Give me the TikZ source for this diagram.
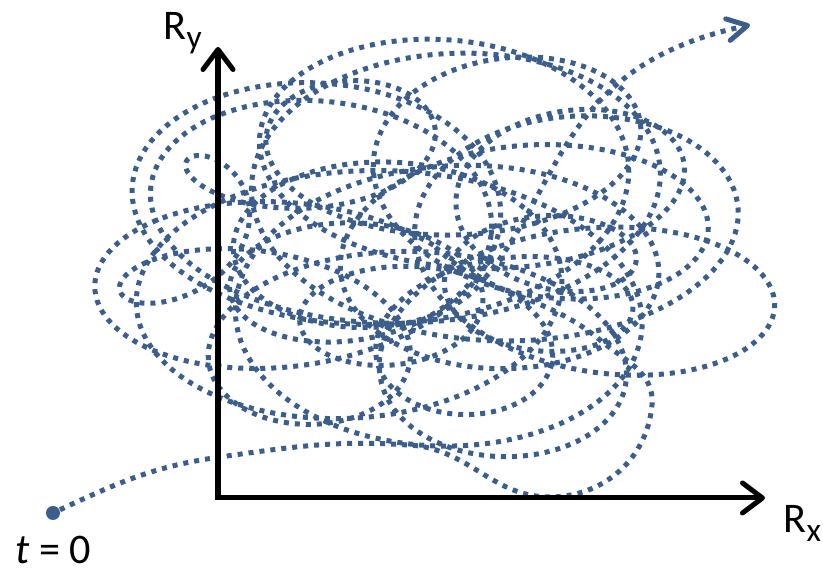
\documentclass[tikz,border=0pt]{standalone}
\usepackage{fontspec}
\setmainfont{Carlito}
\usetikzlibrary{arrows.meta}
\definecolor{trajblue}{HTML}{3B5E8C}

\tikzset{
  traj/.style={trajblue, line width=0.05cm, dash pattern=on 0.05cm off 0.06cm},
  axis/.style={line width=0.05cm},
  lbl/.style={font=\fontsize{12}{14}\selectfont, inner sep=0pt}
}
\newcommand{\lowsub}[1]{\raisebox{-2.4pt}{\fontsize{9.5}{10}\selectfont #1}}

\begin{document}
\begin{tikzpicture}[x=0.01cm, y=0.01cm,
    declare function={
      ampA(\t)=100+42*sin(0.113*\t+40)+20*sin(0.29*\t+200);
      ampB(\t)=95+36*sin(0.071*\t+120)+18*sin(0.37*\t+10);
      trajx(\t)=435+35*sin(0.047*\t+30)+1.5*(ampA(\t)*cos(\t+249.06)+ampB(\t)*cos(-0.1543*\t+249.06));
      trajy(\t)=315+25*sin(0.061*\t+100)+0.9*(ampA(\t)*sin(\t+249.06)+ampB(\t)*sin(-0.1543*\t+249.06));
    }]
  \useasboundingbox (0,0) rectangle (823,570);

  % the wandering path
  \coordinate (w0) at ({trajx(155.94)},{trajy(155.94)});
  \coordinate (w1) at ({trajx(7640.94)},{trajy(7640.94)});
  \coordinate (tip) at (750,545);
  \node[circle, fill=trajblue, minimum size=0.14cm, inner sep=0pt] (start) at (53,57) {};
  \draw[traj] (start) to[out=25,in=188] (220,113) to[out=8,in=175] (420,124)
    to[out=-10,in=180] (550,73) to[out=0,in=-95] (652,165) to[out=85,in=-40] (600,230)
    to[out=140,in=-45] (w0);
  \draw[traj] plot[domain=155.94:7640.94, samples=2400, variable=\t] ({trajx(\t)},{trajy(\t)});
  \draw[traj, -{Straight Barb[length=0.2cm, width=0.22cm, round]}]
    (w1) .. controls ([shift={(50:1.2cm)}]w1) and (560,505) .. (tip);

  % axes
  \coordinate (orig) at (218,72);
  \coordinate (ytip) at (218,523);
  \coordinate (xtip) at (765,72);
  \draw[axis, {Straight Barb[length=0.2cm, width=0.3cm, round]}-{Straight Barb[length=0.2cm, width=0.3cm, round]}]
    (ytip) -- (orig) -- (xtip);

  % labels
  \node[lbl, anchor=base west] (ry) at (163,530) {R\lowsub{y}};
  \node[lbl, anchor=base west] (rx) at (783,37) {R\lowsub{x}};
  \node[lbl, anchor=base west] (t0) at (15,6) {\textit{t} = 0};
\end{tikzpicture}
\end{document}
